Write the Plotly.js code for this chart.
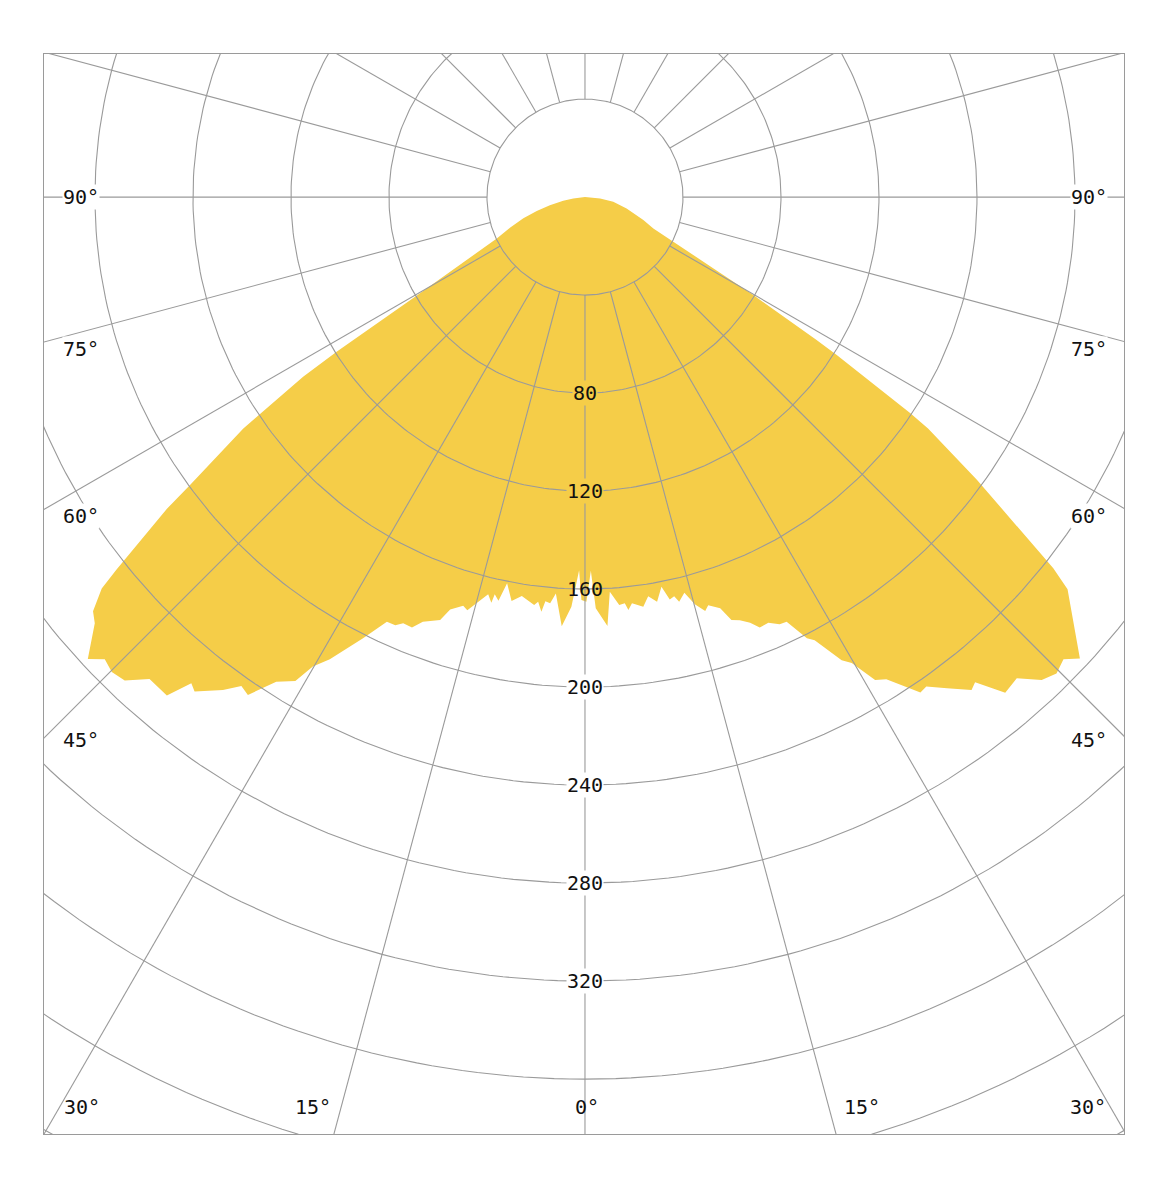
<!DOCTYPE html>
<html lang="fr">
<head>
<meta charset="utf-8">
<title>Courbe photométrique</title>
<script src="https://cdn.plot.ly/plotly-3.0.1.min.js"></script>
<style>
  html, body { margin: 0; padding: 0; background: #fff; }
  #chart { width: 1170px; height: 1191px; }
</style>
</head>
<body>
<div id="chart"></div>
<script>
// Angles gamma en degrés (0 = vers le bas, négatif = côté gauche)
const gammaDeg = [
  -90, -83.7, -80.3, -77.1, -73.8, -71.0, -67.7, -64.9, -59.6, -58.1,
  -57.5, -56.2, -55.9, -53.9, -53.3, -51.5, -51.0, -49.9, -49.0, -47.1,
  -46.1, -44.9, -43.6, -42.1, -40.0, -39.0, -38.3, -36.3, -35.1, -34.1,
  -32.5, -30.9, -30.1, -28.9, -26.7, -25.0, -23.9, -23.1, -21.9, -20.9,
  -18.9, -18.1, -16.6, -15.9, -14.6, -13.7, -13.0, -12.8, -12.1, -11.4,
  -10.3, -9.0, -7.1, -6.6, -6.0, -5.6, -4.9, -4.2, -3.1, -1.9,
  -0.9, -0.5, 0.2, 0.9, 1.5, 3.0, 3.6, 4.8, 5.6, 6.0,
  6.6, 8.1, 9.0, 10.1, 11.1, 11.9, 12.6, 13.1, 14.1, 15.1,
  16.2, 16.8, 18.2, 19.1, 20.1, 21.2, 22.1, 23.3, 24.5, 25.4,
  26.7, 27.4, 29.0, 29.8, 31.0, 32.0, 34.1, 34.9, 36.4, 38.1,
  38.8, 40.3, 41.9, 43.4, 44.7, 46.0, 47.0, 50.9, 51.6, 53.2,
  54.2, 56.0, 56.4, 57.9, 58.3, 59.8, 63.2, 65.4, 68.5, 74.8,
  80.6, 85.1, 90
];

// Intensité relevée (cd/klm) pour chaque angle
const intensite = [
  0, 4.8, 9.0, 14.7, 20.5, 26.6, 33.1, 39.6, 80.4, 119.4,
  136.4, 161.2, 168.4, 199.5, 212.8, 244.4, 253.8, 262.5, 265.1, 277.0,
  272.0, 273.6, 272.4, 265.1, 265.5, 255.3, 257.1, 249.6, 243.9, 245.4,
  234.5, 230.2, 221.5, 215.5, 201.6, 191.3, 191.1, 189.1, 189.3, 185.5,
  182.5, 177.1, 174.0, 175.3, 170.0, 166.8, 169.9, 166.2, 168.5, 160.8,
  167.6, 164.8, 167.8, 166.3, 170.2, 165.7, 166.4, 162.2, 175.4, 167.3,
  152.3, 164.5, 165.2, 152.5, 167.9, 175.3, 161.4, 167.1, 166.6, 169.5,
  166.9, 168.9, 164.9, 167.8, 162.1, 167.8, 166.9, 169.6, 166.5, 172.1,
  175.9, 174.0, 176.7, 182.7, 183.9, 186.4, 189.6, 189.2, 191.6, 191.9,
  201.6, 203.7, 216.1, 219.1, 229.9, 232.1, 244.2, 243.5, 249.0, 255.7,
  254.1, 265.2, 263.9, 271.3, 273.6, 271.5, 276.2, 253.8, 243.9, 213.2,
  197.2, 168.9, 159.3, 121.3, 111.1, 79.5, 38.9, 30.7, 25.6, 17.6,
  11.7, 6.2, 0
];

// Grille : cercles et valeurs étiquetées
const cercles = [40, 80, 120, 160, 200, 240, 280, 320, 360, 400, 440];
const cerclesEtiquetes = [80, 120, 160, 200, 240, 280, 320];
const pasRayons = 15;

// Étiquettes d'angles (côtés et bas)
const anglesCotes = ['90°', '75°', '60°', '45°'];
const anglesBas = ['30°', '15°', '0°', '15°', '30°'];

const JAUNE = '#F5CD48';
const GRIS = '#9a9a9a';
const POLICE = 'DejaVu Sans Mono, Liberation Mono, monospace';

const rad = d => d * Math.PI / 180;
// 0° vers le bas, angles positifs vers la droite
const versX = (g, v) => v * Math.sin(rad(g));
const versY = (g, v) => -v * Math.cos(rad(g));

const courbe = {
  x: gammaDeg.map((g, i) => versX(g, intensite[i])),
  y: gammaDeg.map((g, i) => versY(g, intensite[i])),
  type: 'scatter',
  mode: 'lines',
  fill: 'toself',
  fillcolor: JAUNE,
  line: { width: 0, color: JAUNE },
  hoverinfo: 'skip',
};

// Cercles concentriques
const cx = [], cy = [];
cercles.forEach(v => {
  for (let a = 0; a <= 360; a += 1) {
    cx.push(versX(a, v));
    cy.push(versY(a, v));
  }
  cx.push(null); cy.push(null);
});

// Rayons à partir du premier cercle
const rx = [], ry = [];
for (let a = 0; a < 360; a += pasRayons) {
  rx.push(versX(a, cercles[0]), versX(a, 600), null);
  ry.push(versY(a, cercles[0]), versY(a, 600), null);
}

const grille = {
  x: cx.concat(rx),
  y: cy.concat(ry),
  type: 'scatter',
  mode: 'lines',
  line: { color: GRIS, width: 1.1 },
  hoverinfo: 'skip',
  connectgaps: false,
};

const texte = { family: POLICE, size: 20, color: '#111' };

const annotations = cerclesEtiquetes.map(v => ({
  x: 0, y: -v, text: String(v), showarrow: false,
  xanchor: 'center', yanchor: 'middle',
  font: texte, borderpad: 0,
  bgcolor: v <= 120 ? JAUNE : (v === 160 ? 'rgba(0,0,0,0)' : '#fff'),
}));

// Positions des étiquettes d'angle (unités des axes)
const yCotes = [0, -62, -130.2, -221.6];
anglesCotes.forEach((t, i) => {
  annotations.push({ x: -213.5, y: yCotes[i], text: t, showarrow: false,
    xanchor: 'left', yanchor: 'middle', font: texte, bgcolor: '#fff', borderpad: 0 });
  annotations.push({ x: 213.5, y: yCotes[i], text: t, showarrow: false,
    xanchor: 'right', yanchor: 'middle', font: texte, bgcolor: '#fff', borderpad: 0 });
});
const xBas = [-213.5, -111, 0.8, 113.1, 213.5];
const ancreBas = ['left', 'center', 'center', 'center', 'right'];
anglesBas.forEach((t, i) => {
  annotations.push({ x: xBas[i], y: -371.4, text: t, showarrow: false,
    xanchor: ancreBas[i], yanchor: 'middle', font: texte });
});

const axe = {
  showgrid: false,
  zeroline: false,
  showticklabels: false,
  ticks: '',
  showline: true,
  mirror: true,
  linecolor: GRIS,
  linewidth: 1,
  fixedrange: true,
};

const layout = {
  width: 1170,
  height: 1191,
  margin: { l: 44, r: 46, t: 54, b: 57 },
  xaxis: Object.assign({}, axe, { range: [-220.8, 220.0] }),
  yaxis: Object.assign({}, axe, { range: [-382.4, 58.4] }),
  paper_bgcolor: '#fff',
  plot_bgcolor: '#fff',
  showlegend: false,
  hovermode: false,
  annotations: annotations,
  font: { family: POLICE },
};

Plotly.newPlot('chart', [courbe, grille], layout, { displayModeBar: false, staticPlot: true });
</script>
</body>
</html>
